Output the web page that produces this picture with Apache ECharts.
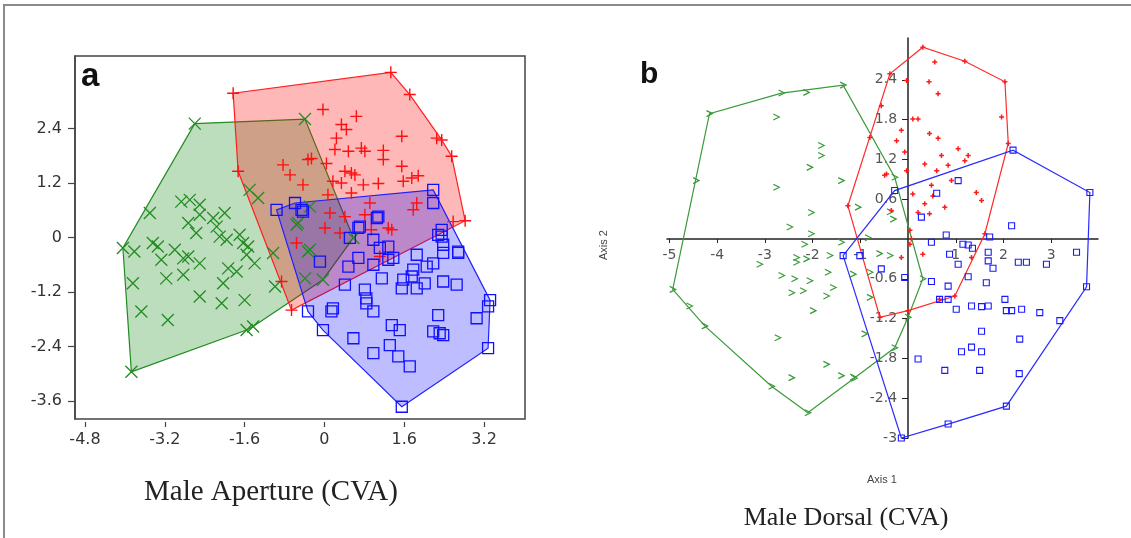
<!DOCTYPE html>
<html>
<head>
<meta charset="utf-8">
<script src="https://cdn.jsdelivr.net/npm/echarts@6/dist/echarts.min.js"></script>
<style>
html, body { margin: 0; padding: 0; background: #fff; }
#chart { width: 1131px; height: 538px; }
</style>
</head>
<body>
<div id="chart"></div>
<script>
// panel a - Male Aperture (CVA), three groups
const aGreen = [
  [-2.60, 2.51], [-0.39, 2.61], [-4.04, -0.23], [-3.87, -2.96], [-1.56, -2.04], [-1.43, -1.96],
  [0.58, -0.01], [-0.03, -0.93],
  [-3.50, 0.54], [-2.87, 0.79], [-2.70, 0.83], [-2.50, 0.72], [-2.50, 0.50], [-2.73, 0.32],
  [-2.57, 0.10], [-2.23, 0.43], [-2.00, 0.54], [-2.16, 0.24], [-2.10, 0.02], [-1.96, -0.05],
  [-1.70, 0.06], [-1.63, -0.12], [-1.53, -0.20], [-3.81, -0.31], [-3.44, -0.12], [-3.34, -0.20],
  [-3.27, -0.49], [-3.00, -0.27], [-2.83, -0.46], [-2.73, -0.42], [-2.50, -0.57], [-3.17, -0.90],
  [-2.83, -0.82], [-3.84, -1.01], [-3.67, -1.63], [-3.14, -1.82], [-2.50, -1.30], [-2.06, -1.45],
  [-1.60, -1.38], [-2.03, -1.01], [-1.93, -0.68], [-1.76, -0.75], [-1.40, -0.57], [-1.56, -0.38],
  [-1.03, -0.34], [-0.99, -1.08], [-1.50, 1.05], [-1.33, 0.87], [-0.56, 0.28], [-0.33, -0.31],
  [-0.39, -0.90], [-0.29, 0.68], [-0.53, 0.32], [-0.29, -0.27]
];
const aRed = [
  [-1.83, 3.18], [1.33, 3.64], [1.71, 3.15], [2.25, 2.19], [2.35, 2.15], [2.55, 1.79],
  [2.82, 0.37], [2.58, 0.35], [-0.66, -1.60], [-0.86, -0.97], [-1.73, 1.46],
  [-0.03, 2.82], [0.64, 2.67], [0.34, 2.49], [0.44, 2.38], [0.24, 2.19], [1.55, 2.23],
  [0.21, 1.94], [0.48, 1.90], [0.74, 1.97], [0.81, 1.90], [1.18, 1.92], [1.18, 1.72],
  [1.55, 1.57], [-0.83, 1.60], [-0.69, 1.38], [-0.33, 1.72], [-0.26, 1.74], [0.04, 1.63],
  [0.41, 1.46], [0.54, 1.42], [0.61, 1.38], [-0.43, 1.16], [0.17, 1.24], [0.34, 1.20],
  [0.78, 1.16], [1.08, 1.19], [1.58, 1.24], [1.75, 1.31], [1.88, 1.36], [0.07, 0.94],
  [0.54, 0.98], [0.91, 0.76], [1.85, 0.76], [1.78, 0.61], [0.11, 0.54], [0.81, 0.50],
  [0.41, 0.46], [0.01, 0.21], [0.31, 0.10], [1.28, 0.21], [1.35, 0.17], [-0.56, -0.12],
  [0.94, 0.17], [1.11, -0.42]
];
const aBlue = [
  [-0.96, 0.61], [-0.59, 0.76], [2.18, 1.05], [2.18, 0.76], [3.32, -1.38], [3.28, -1.52],
  [3.28, -2.44], [1.55, -3.73], [-0.03, -2.04], [-0.33, -1.63],
  [-0.43, 0.57], [-0.09, -0.53], [0.51, -0.01], [0.68, 0.21], [1.05, 0.43], [0.98, -0.05],
  [1.11, -0.23], [1.28, -0.20], [0.68, -0.45], [0.48, -0.64], [0.98, -0.60], [1.28, -0.49],
  [1.38, -0.45], [1.15, -0.90], [0.41, -1.04], [1.85, -0.38], [1.78, -0.71], [1.58, -0.93],
  [1.75, -0.86], [1.55, -1.12], [1.85, -1.12], [2.01, -1.01], [2.05, -0.64], [2.18, -0.57],
  [2.38, -0.34], [2.35, 0.02], [2.35, 0.17], [2.38, -0.16], [2.68, -0.34], [2.38, -0.97],
  [2.65, -1.04], [0.81, -1.15], [0.84, -1.34], [0.84, -1.45], [0.98, -1.63], [0.17, -1.56],
  [1.35, -1.93], [1.51, -2.04], [0.58, -2.22], [1.31, -2.37], [0.98, -2.55], [1.48, -2.62],
  [1.71, -2.84], [2.28, -1.71], [2.18, -2.07], [2.31, -2.11], [2.38, -2.15], [3.05, -1.78],
  [-0.46, 0.61], [0.71, 0.24], [1.08, 0.46], [0.14, -1.63], [2.28, 0.06], [2.68, -0.31]
];
const aTicksX = [-4.8, -3.2, -1.6, 0, 1.6, 3.2];
const aTicksY = [-3.6, -2.4, -1.2, 0, 1.2, 2.4];

// panel b - Male Dorsal (CVA)
const bGreen = [
  [-4.16, 1.89], [-2.65, 2.20], [-2.13, 2.21], [-1.36, 2.32], [-0.28, 0.93], [0.31, -0.60],
  [0.00, -1.18], [-0.28, -1.64], [-1.13, -2.10], [-2.10, -2.62], [-2.86, -2.22], [-4.26, -1.31],
  [-4.58, -1.01], [-4.93, -0.76], [-4.44, 0.88],
  [-2.76, 1.84], [-1.82, 1.41], [-1.82, 1.26], [-2.06, 1.08], [-2.76, 0.78], [-1.40, 0.88],
  [-2.03, 0.40], [-1.05, 0.48], [-2.48, 0.18], [-2.03, 0.08], [-2.17, -0.08], [-1.40, -0.05],
  [-0.84, 0.02], [-1.64, -0.25], [-2.34, -0.28], [-3.11, -0.38], [-2.34, -0.35], [-2.13, -0.30],
  [-1.68, -0.50], [-2.65, -0.55], [-2.38, -0.60], [-2.06, -0.63], [-2.44, -0.81], [-2.20, -0.78],
  [-1.57, -0.73], [-1.71, -0.86], [-1.15, -0.53], [-0.80, -0.88], [-0.38, -0.25], [-1.99, -1.08],
  [-2.73, -1.49], [-1.71, -1.89], [-2.44, -2.09], [-1.40, -2.06], [-0.91, -1.43], [-0.80, -0.50],
  [-0.31, 0.30], [-0.38, 0.41], [-0.60, -0.22], [-1.15, -2.08]
];
const bRed = [
  [0.31, 2.89], [1.19, 2.68], [2.03, 2.37], [2.10, 1.44], [1.61, 0.08], [0.98, -0.86],
  [0.66, -0.91], [0.00, -1.08], [-0.59, -1.18], [-1.26, 0.50], [-0.38, 2.49], [-0.56, 2.01],
  [-0.80, 1.53],
  [0.56, 2.67], [-0.03, 2.39], [0.44, 2.37], [0.63, 2.19], [0.10, 1.81], [0.21, 1.81],
  [1.96, 1.84], [-0.14, 1.64], [0.45, 1.59], [0.63, 1.52], [-0.24, 1.48], [-0.07, 1.31],
  [1.05, 1.36], [0.70, 1.26], [1.26, 1.26], [0.35, 1.13], [0.84, 1.11], [1.19, 1.18],
  [-0.03, 1.03], [0.60, 1.03], [-0.49, 0.96], [-0.45, 0.98], [0.91, 0.88], [0.49, 0.81],
  [0.10, 0.68], [0.52, 0.65], [1.43, 0.70], [1.54, 0.58], [0.35, 0.53], [0.77, 0.48],
  [-0.35, 0.43], [0.21, 0.40], [0.45, 0.38], [0.04, 0.13], [0.07, 0.00], [0.04, -0.08],
  [0.31, -0.23], [-0.14, -0.28], [1.33, -0.28]
];
const bBlue = [
  [2.20, 1.34], [3.81, 0.70], [3.74, -0.72], [3.18, -1.23], [2.06, -2.52], [0.84, -2.79],
  [-0.14, -3.00], [-1.36, -0.25], [-0.28, 0.73],
  [1.05, 0.88], [0.60, 0.69], [0.28, 0.33], [2.17, 0.20], [0.80, 0.06], [1.71, 0.03],
  [0.49, -0.05], [1.15, -0.08], [1.26, -0.09], [1.35, -0.14], [3.53, -0.20], [0.87, -0.23],
  [1.68, -0.20], [1.68, -0.33], [2.31, -0.35], [2.48, -0.35], [2.90, -0.38], [1.05, -0.38],
  [1.78, -0.44], [-0.56, -0.45], [-0.07, -0.58], [0.49, -0.64], [1.26, -0.57], [1.64, -0.66],
  [0.84, -0.71], [0.66, -0.91], [0.84, -0.91], [2.03, -0.91], [1.01, -1.06], [1.33, -1.01],
  [1.54, -1.02], [1.68, -1.01], [2.06, -1.08], [2.17, -1.08], [2.38, -1.06], [2.76, -1.11],
  [1.54, -1.39], [2.34, -1.51], [1.33, -1.63], [1.12, -1.70], [1.54, -1.70], [0.21, -1.81],
  [0.77, -1.98], [1.50, -1.98], [2.33, -2.03], [-1.01, -0.25]
];
const bTicksX = [-5, -4, -3, -2, -1, 1, 2, 3];
const bTicksY = [-3, -2.4, -1.8, -1.2, -0.6, 0.6, 1.2, 1.8, 2.4];

// convex hull (monotone chain) of a group's points
function hull(pts) {
  const p = pts.slice().sort((a, b) => a[0] - b[0] || a[1] - b[1]);
  const cross = (o, a, b) => (a[0] - o[0]) * (b[1] - o[1]) - (a[1] - o[1]) * (b[0] - o[0]);
  const lower = [];
  for (const q of p) {
    while (lower.length >= 2 && cross(lower[lower.length - 2], lower[lower.length - 1], q) <= 0) lower.pop();
    lower.push(q);
  }
  const upper = [];
  for (const q of p.slice().reverse()) {
    while (upper.length >= 2 && cross(upper[upper.length - 2], upper[upper.length - 1], q) <= 0) upper.pop();
    upper.push(q);
  }
  lower.pop();
  upper.pop();
  return lower.concat(upper);
}

function hullSeries(pts, idx, fill, stroke) {
  const h = hull(pts);
  return {
    type: 'custom',
    xAxisIndex: idx,
    yAxisIndex: idx,
    silent: true,
    clip: false,
    data: h,
    renderItem: function (params, api) {
      if (params.dataIndex !== 0) return null;
      return {
        type: 'polygon',
        shape: { points: h.map((p) => api.coord(p)) },
        style: { fill: fill, stroke: stroke, lineWidth: 1.2 }
      };
    }
  };
}

function pointSeries(pts, idx, symbol, size, color, width) {
  return {
    type: 'scatter',
    xAxisIndex: idx,
    yAxisIndex: idx,
    silent: true,
    data: pts,
    symbol: symbol,
    symbolSize: size,
    itemStyle: { color: 'rgba(0,0,0,0)', borderColor: color, borderWidth: width, opacity: 1 }
  };
}

const crossX = 'path://M0,0L10,10M10,0L0,10';
const plus = 'path://M5,0L5,10M0,5L10,5';
const chevron = 'path://M0,0L10,5L0,10';

const sans = 'Liberation Sans, Arial, sans-serif';
const wide = 'DejaVu Sans, sans-serif';
const serif = 'Liberation Serif, Times New Roman, serif';

// panel b axes cross at the origin: move them in from the grid edges
const bLeft = 667, bWidth = 431, bTop = 38, bHeight = 400;
const bXMin = -5.05, bXMax = 3.98, bYMin = -3, bYMax = 3.03;
const bZeroX = bLeft + bWidth * (0 - bXMin) / (bXMax - bXMin);
const bZeroY = bTop + bHeight * (bYMax - 0) / (bYMax - bYMin);

const chart = echarts.init(document.getElementById('chart'));
chart.setOption({
  animation: false,
  backgroundColor: '#fff',
  grid: [
    { left: 75, right: 606, top: 56, bottom: 119, show: true, borderColor: '#444', borderWidth: 1.5 },
    { left: bLeft, width: bWidth, top: bTop, height: bHeight }
  ],
  xAxis: [
    {
      gridIndex: 0, type: 'value', min: -5, max: 4.02, offset: 3,
      axisLine: { show: false, onZero: false },
      axisTick: { show: true, length: 5, customValues: aTicksX, lineStyle: { color: '#444', width: 1.2 } },
      axisLabel: { customValues: aTicksX, margin: 10, color: '#333', fontSize: 16, fontFamily: wide },
      splitLine: { show: false }
    },
    {
      gridIndex: 1, type: 'value', min: bXMin, max: bXMax,
      position: 'bottom', offset: -(bTop + bHeight - bZeroY),
      axisLine: { show: true, onZero: false, lineStyle: { color: '#222', width: 1.5 } },
      axisTick: { show: true, length: 4, customValues: bTicksX, lineStyle: { color: '#222' } },
      axisLabel: { customValues: bTicksX, margin: 9, color: '#555', fontSize: 14, fontFamily: wide },
      splitLine: { show: false }
    }
  ],
  yAxis: [
    {
      gridIndex: 0, type: 'value', min: -4, max: 4,
      axisLine: { show: true, onZero: false, lineStyle: { color: '#444', width: 1.5 } },
      axisTick: { show: true, length: 7, customValues: aTicksY, lineStyle: { color: '#444', width: 1.2 } },
      axisLabel: { customValues: aTicksY, margin: 13, color: '#333', fontSize: 16, fontFamily: wide },
      splitLine: { show: false }
    },
    {
      gridIndex: 1, type: 'value', min: bYMin, max: bYMax,
      position: 'left', offset: -(bZeroX - bLeft),
      axisLine: { show: true, onZero: false, lineStyle: { color: '#222', width: 1.5 } },
      axisTick: { show: true, length: 6, customValues: bTicksY, lineStyle: { color: '#222' } },
      axisLabel: { customValues: bTicksY, margin: 11, color: '#555', fontSize: 14, fontFamily: wide },
      splitLine: { show: false }
    }
  ],
  series: [
    hullSeries(aGreen, 0, 'rgba(0,128,0,0.26)', '#228b22'),
    pointSeries(aGreen, 0, crossX, 12, '#228b22', 1.3),
    hullSeries(aRed, 0, 'rgba(255,0,0,0.28)', '#ff2020'),
    pointSeries(aRed, 0, plus, 12, '#ff1010', 1.4),
    hullSeries(aBlue, 0, 'rgba(0,0,255,0.26)', '#2020ff'),
    pointSeries(aBlue, 0, 'rect', 11, '#1010ff', 1.3),

    hullSeries(bGreen, 1, 'none', '#3a9a3a'),
    pointSeries(bGreen, 1, chevron, 6, '#3a9a3a', 1.2),
    hullSeries(bRed, 1, 'none', '#ff2a2a'),
    pointSeries(bRed, 1, plus, 5, '#ff1a1a', 1.5),
    hullSeries(bBlue, 1, 'none', '#2a2aff'),
    pointSeries(bBlue, 1, 'rect', 6, '#1a1aff', 1.1)
  ],
  graphic: [
    { type: 'line', shape: { x1: 3, y1: 5, x2: 1131, y2: 5 }, style: { stroke: '#8a8a8a', lineWidth: 2 } },
    { type: 'line', shape: { x1: 4, y1: 5, x2: 4, y2: 538 }, style: { stroke: '#8a8a8a', lineWidth: 2 } },
    { type: 'text', x: 81, y: 77, style: { text: 'a', font: 'bold 33px ' + sans, fill: '#111', verticalAlign: 'middle' } },
    { type: 'text', x: 640, y: 75, style: { text: 'b', font: 'bold 30px ' + sans, fill: '#111', verticalAlign: 'middle' } },
    { type: 'text', x: 271, y: 492, style: { text: 'Male Aperture (CVA)', font: '29px ' + serif, fill: '#222', align: 'center', verticalAlign: 'middle' } },
    { type: 'text', x: 846, y: 518, style: { text: 'Male Dorsal (CVA)', font: '26px ' + serif, fill: '#222', align: 'center', verticalAlign: 'middle' } },
    { type: 'text', x: 882, y: 480, style: { text: 'Axis 1', font: '11px ' + sans, fill: '#444', align: 'center', verticalAlign: 'middle' } },
    { type: 'text', x: 604, y: 245, rotation: Math.PI / 2, style: { text: 'Axis 2', font: '11px ' + sans, fill: '#444', align: 'center', verticalAlign: 'middle' } }
  ]
});
</script>
</body>
</html>
